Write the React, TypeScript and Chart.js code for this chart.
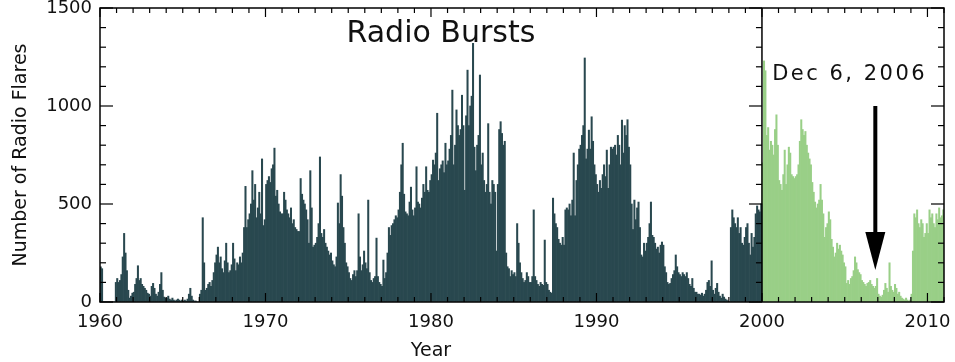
import React, { useEffect, useRef } from 'react';
import { Chart, registerables } from 'chart.js';

Chart.register(...registerables);

// Monthly counts of radio flares, 12 values per year
const dark1960s = [
  180, 170, 0, 0, 0, 0, 0, 0, 0, 0, 0, 100,
  120, 100, 110, 140, 230, 350, 250, 160, 60, 20, 30, 45,
  50, 90, 120, 185, 110, 120, 90, 80, 70, 60, 45, 40,
  30, 80, 95, 70, 40, 30, 50, 90, 150, 60, 25, 20,
  20, 30, 15, 10, 20, 10, 5, 10, 15, 10, 5, 10,
  5, 10, 5, 15, 40, 70, 30, 10, 5, 5, 0, 0,
  40, 60, 430, 200, 60, 70, 90, 100, 80, 110, 150, 200,
  240, 280, 200, 230, 170, 150, 210, 300, 200, 150, 160, 190,
  300, 220, 160, 200, 190, 230, 200, 250, 380, 590, 380, 420,
  450, 500, 670, 520, 600, 430, 480, 560, 450, 730, 390, 420,
];
const dark1970s = [
  600, 620, 640, 610, 680, 700, 785, 540, 570, 500, 460, 450,
  450, 560, 520, 470, 450, 430, 480, 400, 420, 380, 370, 360,
  360, 630, 550, 520, 500, 470, 420, 300, 670, 480, 280, 290,
  300, 330, 400, 740, 350, 330, 370, 300, 280, 260, 240, 250,
  210, 190, 180, 230, 505, 400, 650, 540, 380, 300, 200, 180,
  150, 120, 110, 140, 160, 130, 160, 450, 230, 160, 190, 260,
  200, 170, 520, 150, 110, 100, 120, 130, 326, 130, 100, 90,
  80, 214, 120, 150, 250, 380, 340, 390, 400, 420, 440, 430,
  470, 560, 700, 810, 550, 460, 450, 440, 510, 586, 470, 440,
  480, 690, 510, 500, 480, 530, 600, 560, 690, 570, 560, 620,
];
const dark1980s = [
  650, 724, 700, 760, 963, 620, 680, 700, 720, 660, 810, 700,
  720, 780, 850, 1081, 700, 800, 980, 900, 850, 880, 1055, 900,
  570, 950, 1183, 900, 1000, 1050, 1320, 790, 670, 800, 850, 1158,
  700, 760, 620, 560, 600, 910, 560, 500, 620, 600, 560, 260,
  600, 880, 920, 860, 800, 820, 250, 180, 170, 130, 160, 140,
  150, 130, 400, 300, 200, 150, 120, 100, 110, 150, 130, 100,
  100, 130, 470, 130, 110, 90, 80, 100, 90, 85, 316, 100,
  90, 60, 50, 45, 530, 450, 400, 380, 320, 300, 290, 330,
  290, 470, 480, 470, 500, 440, 520, 760, 440, 620, 700, 780,
  800, 850, 900, 1245, 730, 780, 877, 780, 945, 820, 700, 650,
];
const dark1990s = [
  600, 560, 620, 580, 650, 700, 640, 775, 580, 700, 790, 780,
  790, 800, 750, 850, 800, 700, 928, 760, 900, 850, 930, 790,
  700, 500, 370, 520, 420, 480, 510, 380, 240, 230, 300, 260,
  300, 330, 400, 510, 340, 330, 300, 270, 280, 250, 290, 306,
  290, 180, 150, 100, 90, 95, 120, 140, 160, 240, 180, 150,
  140, 130, 150, 140, 130, 150, 120, 90, 80, 120, 70, 50,
  50, 40, 40, 35, 45, 30, 40, 60, 100, 110, 80, 210,
  60, 40, 70, 95, 50, 30, 20, 40, 25, 15, 10, 5,
  0, 380, 470, 430, 400, 380, 430, 350, 380, 300, 290, 330,
  380, 400, 300, 240, 350, 280, 330, 450, 490, 470, 460, 500,
];
const green2000s = [
  710, 1230, 1180, 850, 890, 775, 820, 800, 750, 880, 955, 800,
  620, 600, 570, 650, 775, 600, 700, 790, 760, 650, 640, 630,
  640, 650, 700, 820, 930, 880, 850, 870, 800, 760, 730, 700,
  610, 560, 510, 480, 500, 520, 600, 520, 450, 330, 380, 400,
  460, 420, 320, 280, 230, 250, 300, 270, 290, 260, 240, 200,
  180, 95, 110, 90, 120, 130, 160, 230, 200, 165, 150, 140,
  110, 100, 90, 80, 95, 100, 110, 90, 80, 70, 80, 120,
  40, 30, 25, 35, 60, 95, 70, 50, 200, 80, 60, 50,
  90, 70, 40, 50, 30, 20, 15, 10, 20, 10, 5, 10,
  40, 260, 450, 430, 470, 400, 380, 420, 400, 330, 350, 400,
  350, 470, 430, 450, 400, 380, 450, 420, 480, 430, 440, 470,
];

const startYear = 1960;
const endYear = 2011;
const splitYear = 2000;
const yTicks = [0, 500, 1000, 1500];
const xTickYears = [1960, 1970, 1980, 1990, 2000, 2010];

const titleText = 'Radio Bursts';
const titlePos = { year: 1980.6, value: 1327 };
const eventText = 'Dec 6, 2006';
const eventLabelPos = { year: 2005.3, value: 1132 };
const arrowYear = 2006.85;
const arrowValues = { top: 1000, headBase: 357, tip: 163 };
const xTitle = 'Year';
const xTitleYear = 1980;
const yTitle = 'Number of Radio Flares';

const DARK = '#29484f';
const GREEN = '#99cf87';
const FONT = 'DejaVu Sans';

export default function App() {
  const canvasRef = useRef<HTMLCanvasElement | null>(null);

  useEffect(() => {
    if (!canvasRef.current) return;
    const darkAll = [...dark1960s, ...dark1970s, ...dark1980s, ...dark1990s];
    const nMonths = darkAll.length + green2000s.length;
    const labels: string[] = [];
    for (let i = 0; i < nMonths; i++) {
      const y = startYear + Math.floor(i / 12);
      labels.push(`${y}-${String((i % 12) + 1).padStart(2, '0')}`);
    }
    const darkData = [...darkAll, ...green2000s.map(() => null)];
    const greenData = [...darkAll.map(() => null), ...green2000s];

    const overlay = {
      id: 'overlay',
      afterDatasetsDraw(chart: any) {
        const { ctx, chartArea } = chart;
        const { left, right, top, bottom } = chartArea;
        const xs = chart.scales.xYear;
        const ys = chart.scales.y;
        const line = (x1: number, y1: number, x2: number, y2: number) => {
          ctx.beginPath();
          ctx.moveTo(x1, y1);
          ctx.lineTo(x2, y2);
          ctx.stroke();
        };
        ctx.save();
        ctx.strokeStyle = '#000';
        ctx.lineWidth = 1.5;
        ctx.strokeRect(left, top, right - left, bottom - top);
        const xSplit = xs.getPixelForValue(splitYear);
        line(xSplit, top, xSplit, bottom);
        ctx.lineWidth = 1.2;
        for (let v = 0; v <= 1500; v += 100) {
          const py = ys.getPixelForValue(v);
          const len = v % 500 === 0 ? 13 : 6;
          line(left, py, left + len, py);
          line(right, py, right - len, py);
          line(xSplit, py, xSplit - len, py);
        }
        for (let yr = startYear; yr <= endYear; yr++) {
          const px = xs.getPixelForValue(yr);
          const len = yr % 10 === 0 ? 9 : 5;
          line(px, bottom, px, bottom - len);
          line(px, top, px, top + len);
        }
        // arrow
        const ax = xs.getPixelForValue(arrowYear);
        const yTop = ys.getPixelForValue(arrowValues.top);
        const yBase = ys.getPixelForValue(arrowValues.headBase);
        const yTip = ys.getPixelForValue(arrowValues.tip);
        ctx.lineWidth = 4;
        line(ax, yTop, ax, yBase + 2);
        ctx.fillStyle = '#000';
        ctx.beginPath();
        ctx.moveTo(ax - 10, yBase);
        ctx.lineTo(ax + 10, yBase);
        ctx.lineTo(ax, yTip);
        ctx.closePath();
        ctx.fill();
        // texts
        ctx.fillStyle = '#111';
        ctx.textAlign = 'center';
        ctx.textBaseline = 'alphabetic';
        ctx.font = `30px "${FONT}"`;
        ctx.fillText(titleText, xs.getPixelForValue(titlePos.year), ys.getPixelForValue(titlePos.value));
        ctx.font = `21px "${FONT}"`;
        (ctx as any).letterSpacing = '2.5px';
        ctx.fillText(eventText, xs.getPixelForValue(eventLabelPos.year), ys.getPixelForValue(eventLabelPos.value));
        (ctx as any).letterSpacing = '0px';
        ctx.font = `19px "${FONT}"`;
        ctx.fillText(xTitle, xs.getPixelForValue(xTitleYear), 356);
        ctx.restore();
      },
    };

    const tickFont = { family: FONT, size: 18 };
    const chart = new Chart(canvasRef.current, {
      type: 'bar',
      data: {
        labels,
        datasets: [
          {
            data: darkData,
            backgroundColor: DARK,
            borderWidth: 0,
            barPercentage: 1,
            categoryPercentage: 1,
            grouped: false,
            xAxisID: 'x',
            yAxisID: 'y',
          } as any,
          {
            data: greenData,
            backgroundColor: GREEN,
            borderWidth: 0,
            barPercentage: 1,
            categoryPercentage: 1,
            grouped: false,
            xAxisID: 'x',
            yAxisID: 'y',
          } as any,
        ],
      },
      options: {
        animation: false,
        responsive: false,
        layout: { padding: { left: 0, right: 11, top: 8, bottom: 0 } },
        plugins: { legend: { display: false }, tooltip: { enabled: false } },
        scales: {
          x: { type: 'category', display: false, offset: true, grid: { display: false } },
          xYear: {
            type: 'linear',
            position: 'bottom',
            offset: false,
            min: startYear,
            max: endYear,
            afterBuildTicks: (s: any) => {
              s.ticks = xTickYears.map((v) => ({ value: v }));
            },
            ticks: {
              font: tickFont,
              color: '#111',
              padding: 10,
              maxRotation: 0,
              autoSkip: false,
              includeBounds: false,
              callback: (v: any) => String(v),
            },
            grid: { drawOnChartArea: false, drawTicks: false, offset: false },
            border: { display: false },
            afterFit: (s: any) => {
              s.height = 60;
              s.paddingLeft = 0;
              s.paddingRight = 0;
            },
          },
          y: {
            type: 'linear',
            min: 0,
            max: 1500,
            afterBuildTicks: (s: any) => {
              s.ticks = yTicks.map((v) => ({ value: v }));
            },
            ticks: { font: tickFont, color: '#111', padding: 8, callback: (v: any) => String(v) },
            grid: { drawOnChartArea: false, drawTicks: false },
            border: { display: false },
            title: {
              display: true,
              text: yTitle,
              font: { family: FONT, size: 19 },
              color: '#111',
              padding: { top: 10, bottom: 0 },
            },
            afterFit: (s: any) => {
              s.width = 100;
              s.paddingTop = 0;
              s.paddingBottom = 0;
            },
          },
        },
      } as any,
      plugins: [overlay],
    });
    return () => chart.destroy();
  }, []);

  return (
    <div style={{ position: 'fixed', left: 0, top: 0, width: 955, height: 362, background: '#fff' }}>
      <canvas ref={canvasRef} width={955} height={362} style={{ display: 'block' }} />
    </div>
  );
}
